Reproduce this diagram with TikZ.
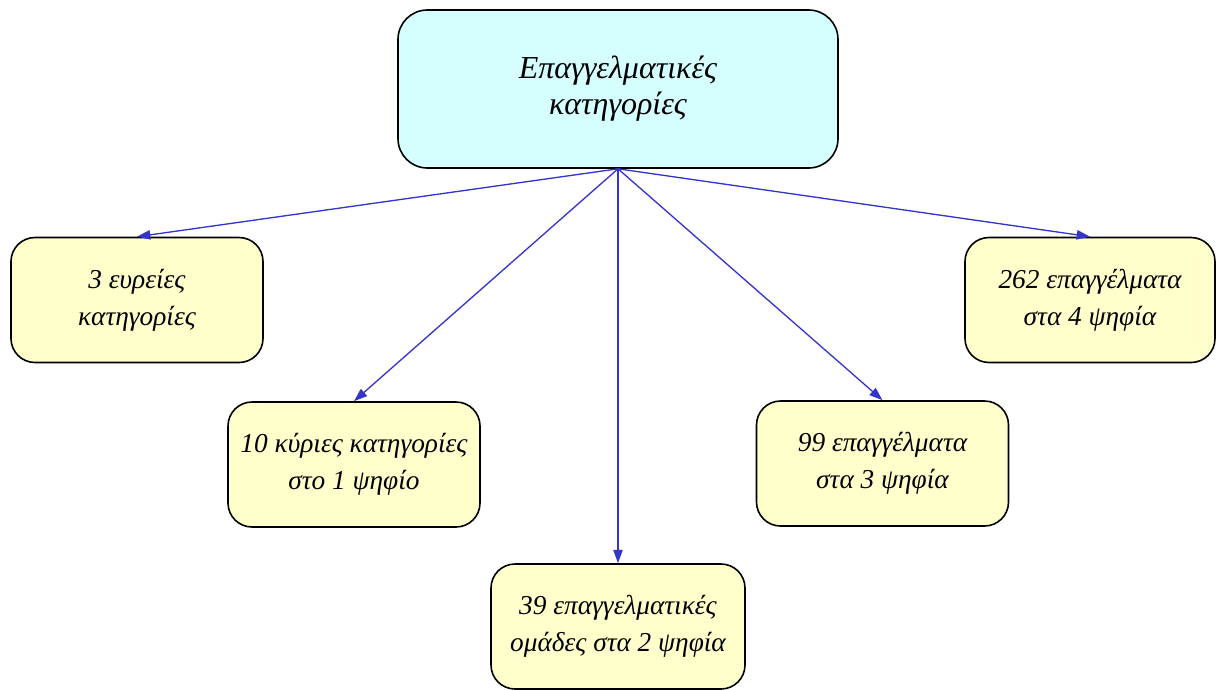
\documentclass[tikz,border=0pt]{standalone}
\usepackage{fontspec}
\setmainfont{Liberation Serif}
\usetikzlibrary{arrows.meta}
\definecolor{boxyellow}{HTML}{FFFFCC}
\definecolor{boxcyan}{HTML}{D5FFFF}
\definecolor{arrowblue}{HTML}{3535CC}
\tikzset{
  catbox/.style={draw,line width=1.2pt,rounded corners=18pt,fill=boxyellow,align=center,
    font=\itshape\fontsize{20.5}{28}\selectfont,inner sep=0pt,
    minimum width=189pt,minimum height=93.75pt},
  link/.style={arrowblue,line width=1pt,-{Triangle[length=10pt,width=7pt]}}
}
\begin{document}
\begin{tikzpicture}[x=0.75pt,y=-0.75pt]
  \useasboundingbox (0,0) rectangle (1216,689);
  \node[catbox,fill=boxcyan,rounded corners=22pt,minimum width=330pt,minimum height=118.5pt,
    font=\itshape\fontsize{24}{27}\selectfont] (top) at (618,89) {Επαγγελματικές\\κατηγορίες};
  \node[catbox] (broad) at (137,300) {3 ευρείες\\κατηγορίες};
  \node[catbox] (major) at (354,464.5) {10 κύριες κατηγορίες\\στο 1 ψηφίο};
  \node[catbox,minimum width=190.5pt] (groups) at (618,626.5) {39 επαγγελματικές\\ομάδες στα 2 ψηφία};
  \node[catbox] (three) at (882.5,463.5) {99 επαγγέλματα\\στα 3 ψηφία};
  \node[catbox,minimum width=187.5pt] (four) at (1090,300) {262 επαγγέλματα\\στα 4 ψηφία};
  \draw[link] (top.south) -- (broad.north);
  \draw[link] (top.south) -- (major.north);
  \draw[link] (top.south) -- (groups.north);
  \draw[link] (top.south) -- (three.north);
  \draw[link] (top.south) -- (four.north);
\end{tikzpicture}
\end{document}
